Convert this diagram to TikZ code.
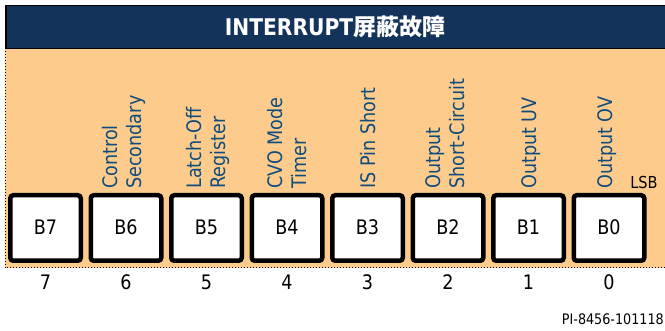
\documentclass[tikz,border=0pt]{standalone}
\usepackage{fontspec}
\setmainfont{DejaVu Sans}[FakeStretch=0.88]
\newfontfamily\cjk{Noto Sans CJK SC}
\definecolor{navy}{HTML}{13335B}
\definecolor{peach}{HTML}{FDCB8B}
\definecolor{lblblue}{HTML}{0F4C7D}
\begin{document}
\begin{tikzpicture}[x=1pt,y=-1pt,
  bitbox/.style={draw=black, line width=4.5pt, rounded corners=3pt, fill=white,
    minimum width=70.5pt, minimum height=65.5pt, inner sep=0pt,
    text height=14pt, text depth=0pt,
    font=\fontsize{20}{23}\selectfont},
  lbl/.style={rotate=90, anchor=west, align=left, inner sep=0pt, text=lblblue,
    font=\fontsize{20}{24}\selectfont},
  num/.style={inner sep=0pt, text height=14pt, text depth=0pt, font=\fontsize{20}{23}\selectfont}]
\useasboundingbox (0,0) rectangle (665,331);
% orange area
\fill[peach] (5,48) rectangle (667,268);
\draw[dotted, line width=1pt] (5,48) -- (5,268) -- (667,268);
% header
\node[draw=black, line width=1.5pt, fill=navy, minimum width=663pt, minimum height=43pt,
  anchor=north west, inner sep=0pt] (hdr) at (5,5) {};
\node[text=white, font=\bfseries\fontsize{23}{27}\selectfont] (title) at (335,27)
  {INTERRUPT{\cjk\bfseries 屏蔽故障}};
% boxes
\foreach \i/\x in {7/45.5,6/126,5/206.5,4/287,3/367.5,2/448,1/528.5,0/609} {
  \node[bitbox] (b\i) at (\x,228) {B\i};
  \node[num] (n\i) at (\x,283) {\i};
}
% labels
\node[lbl] (l6) at (123.5,189) {Control\\Secondary};
\node[lbl] (l5) at (207.5,189) {Latch-Off\\Register};
\node[lbl] (l4) at (287.5,189) {CVO Mode\\Timer};
\node[lbl] (l3) at (368,189) {IS Pin Short};
\node[lbl] (l2) at (445.5,189) {Output\\Short-Circuit};
\node[lbl] (l1) at (531,189) {Output UV};
\node[lbl] (l0) at (607,189) {Output OV};
\node[inner sep=0pt, font=\fontsize{16.5}{19}\selectfont] (lsb) at (644,182) {LSB};
\node[inner sep=0pt, anchor=east, font=\fontsize{14.5}{17}\selectfont] (pi) at (664,319) {PI-8456-101118};
\end{tikzpicture}
\end{document}
